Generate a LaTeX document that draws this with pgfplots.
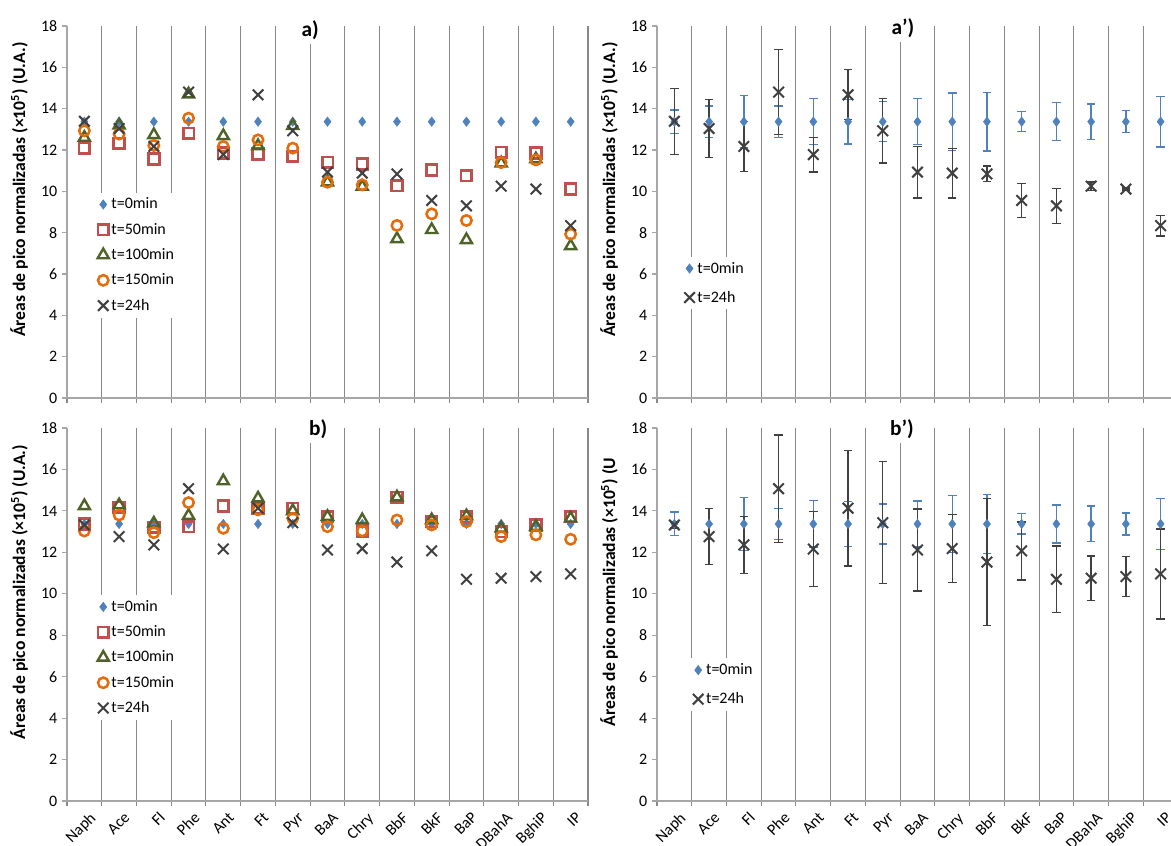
\documentclass[border=0pt]{standalone}
\usepackage{fontspec}
\setmainfont{Carlito}
\usepackage{pgfplots}
\pgfplotsset{compat=1.18}

\definecolor{czero}{HTML}{4F81BD}
\definecolor{cfifty}{HTML}{C0504D}
\definecolor{chund}{HTML}{4F6228}
\definecolor{cpfty}{HTML}{E46C0A}
\definecolor{cday}{HTML}{404040}
\definecolor{gridgray}{HTML}{888888}
\definecolor{axisgray}{HTML}{A6A6A6}

\newcommand{\ylab}{Áreas de pico normalizadas (×10\textsuperscript{5}) (U.A.)}

\pgfplotsset{
  panel/.style={
    scale only axis, clip=false,
    xmin=-0.5, xmax=14.5, ymin=0, ymax=18,
    axis x line=bottom, axis y line=left,
    axis line style={draw=axisgray, line width=1.1pt, -},
    ytick={0,2,...,18},
    xtick={0,...,14},
    minor xtick={-0.5,0.5,...,14.5},
    xminorgrids=true,
    minor x grid style={draw=gridgray, line width=0.8pt},
    major x tick style={draw=none},
    minor x tick style={draw=gridgray, line width=0.8pt},
    ytick style={draw=axisgray, line width=0.8pt},
    tick align=outside,
    major tick length=3.75pt, minor tick length=3.75pt,
    tick label style={font=\fontsize{12}{14}\selectfont},
    /pgf/number format/assume math mode=true,
    every axis y label/.style={at={(rel axis cs:0,0.56)}, xshift=-36pt,
      rotate=90, anchor=center, font=\fontsize{13.2}{15}\selectfont\bfseries},
    legend cell align=left,
    legend image code/.code={\draw[##1] plot coordinates {(0pt,0pt)};},
    legend style={fill=white, draw=none, anchor=north west,
      font=\fontsize{12}{14}\selectfont, row sep=5.2pt, inner sep=2pt,
      /tikz/every even column/.append style={column sep=3pt}},
  },
  toplabels/.style={xticklabels={}},
  botlabels/.style={
    xticklabels={Naph,Ace,Fl,Phe,Ant,Ft,Pyr,BaA,Chry,BbF,BkF,BaP,DBahA,BghiP,IP},
    xticklabel style={rotate=45, anchor=north east, xshift=3pt, yshift=-1.5pt,
      font=\fontsize{12}{14}\selectfont},
  },
  szero/.style={only marks, mark=diamond*, mark size=3.5pt,
    mark options={draw=czero, fill=czero, line width=0.4pt}},
  sfifty/.style={only marks, mark=square, mark size=4pt,
    mark options={draw=cfifty, line width=2pt}},
  shund/.style={only marks, mark=triangle, mark size=4.8pt,
    mark options={draw=chund, line width=1.8pt}},
  spfty/.style={only marks, mark=o, mark size=3.9pt,
    mark options={draw=cpfty, line width=1.9pt}},
  sday/.style={only marks, mark=x, mark size=5.6pt,
    mark options={draw=cday, line width=1.5pt}},
  ezero/.style={error bars/.cd, y dir=both, y explicit,
    error bar style={draw=czero, line width=1pt},
    error mark options={rotate=90, mark size=3.2pt, draw=czero, line width=1pt}},
  eday/.style={error bars/.cd, y dir=both, y explicit,
    error bar style={draw=cday, line width=1pt},
    error mark options={rotate=90, mark size=3.2pt, draw=cday, line width=1pt}},
}

\begin{document}
\begin{tikzpicture}[x=1pt,y=1pt]
\useasboundingbox (0,0) rectangle (878.25,634.5);

% ---------------- a) ----------------
\begin{axis}[panel, toplabels, at={(50.25pt,336pt)}, width=390.75pt, height=279pt,
  ylabel={\ylab},
  legend style={at={(axis cs:0.3,9.95)}}]
\addplot[szero] coordinates {(0,13.37)(1,13.37)(2,13.37)(3,13.37)(4,13.37)(5,13.37)(6,13.37)(7,13.37)(8,13.37)(9,13.37)(10,13.37)(11,13.37)(12,13.37)(13,13.37)(14,13.37)};
\addplot[sfifty] coordinates {(0,12.09)(1,12.33)(2,11.57)(3,12.81)(4,11.85)(5,11.81)(6,11.69)(7,11.41)(8,11.33)(9,10.28)(10,11.04)(11,10.75)(12,11.88)(13,11.85)(14,10.12)};
\addplot[shund] coordinates {(0,12.6)(1,13.2)(2,12.73)(3,14.70)(4,12.68)(5,12.2)(6,13.17)(7,10.44)(8,10.23)(9,7.70)(10,8.14)(11,7.65)(12,11.36)(13,11.56)(14,7.36)};
\addplot[spfty] coordinates {(0,12.93)(1,12.77)(2,12.22)(3,13.54)(4,12.17)(5,12.49)(6,12.09)(7,10.44)(8,10.31)(9,8.35)(10,8.91)(11,8.59)(12,11.39)(13,11.52)(14,7.93)};
\addplot[sday] coordinates {(0,13.39)(1,13.04)(2,12.17)(3,14.80)(4,11.78)(5,14.67)(6,12.93)(7,10.93)(8,10.88)(9,10.84)(10,9.56)(11,9.30)(12,10.25)(13,10.11)(14,8.34)};
\legend{t=0min,t=50min,t=100min,t=150min,t=24h}
\node[fill=white, inner sep=3pt, font=\bfseries\fontsize{16}{19}\selectfont] at (axis cs:6.5,17.8) {a)};
\end{axis}

% ---------------- b) ----------------
\begin{axis}[panel, botlabels, at={(50.25pt,33.75pt)}, width=390.75pt, height=279.75pt,
  ylabel={\ylab},
  legend style={at={(axis cs:0.3,9.95)}}]
\addplot[szero] coordinates {(0,13.37)(1,13.37)(2,13.37)(3,13.37)(4,13.37)(5,13.37)(6,13.37)(7,13.37)(8,13.37)(9,13.37)(10,13.37)(11,13.37)(12,13.37)(13,13.37)(14,13.37)};
\addplot[sfifty] coordinates {(0,13.37)(1,14.17)(2,13.21)(3,13.24)(4,14.24)(5,14.13)(6,14.13)(7,13.72)(8,13.03)(9,14.66)(10,13.48)(11,13.72)(12,12.99)(13,13.32)(14,13.72)};
\addplot[shund] coordinates {(0,14.24)(1,14.28)(2,13.40)(3,13.77)(4,15.44)(5,14.61)(6,14.0)(7,13.72)(8,13.56)(9,14.66)(10,13.56)(11,13.75)(12,13.16)(13,13.24)(14,13.64)};
\addplot[spfty] coordinates {(0,13.03)(1,13.8)(2,12.95)(3,14.4)(4,13.16)(5,14.05)(6,13.64)(7,13.24)(8,13.03)(9,13.56)(10,13.32)(11,13.48)(12,12.76)(13,12.84)(14,12.63)};
\addplot[sday] coordinates {(0,13.32)(1,12.76)(2,12.36)(3,15.07)(4,12.16)(5,14.13)(6,13.43)(7,12.11)(8,12.18)(9,11.53)(10,12.07)(11,10.70)(12,10.75)(13,10.83)(14,10.96)};
\legend{t=0min,t=50min,t=100min,t=150min,t=24h}
\node[fill=white, inner sep=3pt, font=\bfseries\fontsize{16}{19}\selectfont] at (axis cs:6.73,17.95) {b)};
\end{axis}

% ---------------- a') ----------------
\begin{axis}[panel, toplabels, at={(492.75pt,336pt)}, width=385.5pt, height=279pt, xmax=14.299,
  ylabel={\ylab},
  legend style={at={(axis cs:0.2,6.85)}, row sep=8pt}]
\addplot[szero, ezero] coordinates {
 (0,13.37) +- (0,0.57) (1,13.37) +- (0,0.76) (2,13.37) +- (0,1.28) (3,13.37) +- (0,0.76)
 (4,13.37) +- (0,1.12) (5,13.37) +- (0,1.08) (6,13.37) +- (0,0.97) (7,13.37) +- (0,1.11)
 (8,13.37) +- (0,1.38) (9,13.37) +- (0,1.42) (10,13.37) +- (0,0.49) (11,13.37) +- (0,0.92)
 (12,13.37) +- (0,0.86) (13,13.37) +- (0,0.53) (14,13.37) +- (0,1.23)};
\addplot[sday, eday] coordinates {
 (0,13.39) +- (0,1.60) (1,13.04) +- (0,1.39) (2,12.17) +- (0,1.21) (3,14.80) +- (0,2.05)
 (4,11.78) +- (0,0.84) (5,14.67) +- (0,1.21) (6,12.93) +- (0,1.56) (7,10.93) +- (0,1.25)
 (8,10.88) +- (0,1.20) (9,10.84) +- (0,0.38) (10,9.56) +- (0,0.83) (11,9.30) +- (0,0.85)
 (12,10.25) +- (0,0.20) (13,10.11) +- (0,0.05) (14,8.34) +- (0,0.50)};
\legend{t=0min,t=24h}
\node[fill=white, inner sep=3pt, font=\bfseries\fontsize{16}{19}\selectfont] at (axis cs:6.58,17.9) {a’)};
\end{axis}

% ---------------- b') ----------------
\begin{axis}[panel, botlabels, at={(492.75pt,33.75pt)}, width=385.5pt, height=279.75pt, xmax=14.299,
  ylabel={Áreas de pico normalizadas (×10\textsuperscript{5}) (U},
  legend style={at={(axis cs:0.45,6.9)}, row sep=8pt}]
\addplot[szero, ezero] coordinates {
 (0,13.37) +- (0,0.57) (1,13.37) +- (0,0.76) (2,13.37) +- (0,1.28) (3,13.37) +- (0,0.76)
 (4,13.37) +- (0,1.12) (5,13.37) +- (0,1.08) (6,13.37) +- (0,0.97) (7,13.37) +- (0,1.11)
 (8,13.37) +- (0,1.38) (9,13.37) +- (0,1.42) (10,13.37) +- (0,0.49) (11,13.37) +- (0,0.92)
 (12,13.37) +- (0,0.86) (13,13.37) +- (0,0.53) (14,13.37) +- (0,1.23)};
\addplot[sday, eday] coordinates {
 (0,13.32) +- (0,0.15) (1,12.76) +- (0,1.34) (2,12.36) +- (0,1.37) (3,15.07) +- (0,2.60)
 (4,12.16) +- (0,1.81) (5,14.13) +- (0,2.79) (6,13.43) +- (0,2.94) (7,12.11) +- (0,1.98)
 (8,12.18) +- (0,1.64) (9,11.53) +- (0,3.06) (10,12.07) +- (0,1.40) (11,10.70) +- (0,1.61)
 (12,10.75) +- (0,1.07) (13,10.83) +- (0,0.97) (14,10.96) +- (0,2.17)};
\legend{t=0min,t=24h}
\node[fill=white, inner sep=3pt, font=\bfseries\fontsize{16}{19}\selectfont] at (axis cs:6.55,17.95) {b’)};
\end{axis}
\end{tikzpicture}
\end{document}
